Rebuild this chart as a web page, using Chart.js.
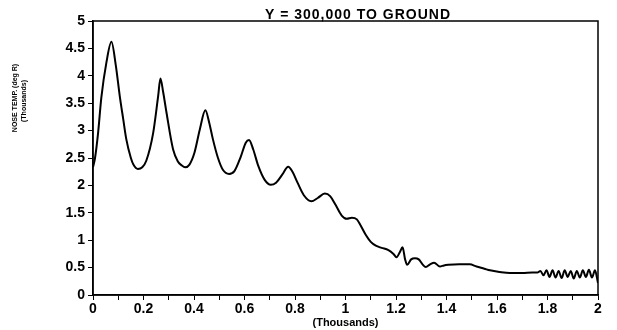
<!DOCTYPE html>
<html lang="en">
<head>
<meta charset="UTF-8">
<title>Nose temperature, Y = 300,000 to ground</title>
<script src="https://cdn.jsdelivr.net/npm/chart.js"></script>
<style>
  html, body { margin: 0; padding: 0; background: #fff; }
  #chart { display: block; }
</style>
</head>
<body>
<canvas id="chart" width="617" height="330"></canvas>
<script>
// data (x and y both in thousands)
const timeK = [
  0, 0.008, 0.02, 0.033, 0.053, 0.073, 0.09, 0.106, 0.12, 0.132,
  0.15, 0.16, 0.178, 0.195, 0.211, 0.238, 0.258, 0.267, 0.278, 0.291,
  0.317, 0.337, 0.35, 0.365, 0.382, 0.402, 0.423, 0.445, 0.46, 0.475,
  0.495, 0.515, 0.539, 0.56, 0.585, 0.605, 0.618, 0.635, 0.655, 0.68,
  0.704, 0.725, 0.75, 0.773, 0.79, 0.81, 0.835, 0.865, 0.89, 0.918,
  0.94, 0.96, 0.985, 1.005, 1.025, 1.045, 1.06, 1.08, 1.10, 1.12,
  1.143, 1.17, 1.19, 1.202, 1.215, 1.226, 1.236, 1.244, 1.26, 1.275,
  1.29, 1.305, 1.318, 1.335, 1.351, 1.374, 1.39, 1.407, 1.45, 1.492,
  1.519, 1.55, 1.572, 1.61, 1.651, 1.70, 1.74, 1.76, 1.772, 1.784,
  1.796, 1.808, 1.82, 1.832, 1.844, 1.856, 1.868, 1.88, 1.892, 1.904,
  1.916, 1.928, 1.94, 1.952, 1.964, 1.976, 1.988, 2.0
];
const noseTemp = [
  2.33, 2.5, 2.95, 3.6, 4.24, 4.62, 4.2, 3.63, 3.2, 2.84,
  2.5, 2.38, 2.30, 2.33, 2.45, 2.95, 3.63, 3.95, 3.7, 3.33,
  2.66, 2.43, 2.37, 2.33, 2.38, 2.6, 3.02, 3.37, 3.15, 2.84,
  2.5, 2.28, 2.21, 2.26, 2.52, 2.78, 2.83, 2.65, 2.35, 2.1,
  2.01, 2.05, 2.2, 2.34, 2.25, 2.05, 1.82, 1.71, 1.77, 1.85,
  1.8, 1.65, 1.45, 1.39, 1.41, 1.38, 1.27, 1.1, 0.97, 0.9,
  0.86, 0.82, 0.75, 0.69, 0.78, 0.87, 0.65, 0.55, 0.65, 0.67,
  0.65, 0.56, 0.51, 0.56, 0.59, 0.52, 0.54, 0.55, 0.56, 0.56,
  0.52, 0.48, 0.45, 0.42, 0.40, 0.40, 0.41, 0.41, 0.44, 0.36,
  0.45, 0.33, 0.45, 0.32, 0.44, 0.31, 0.45, 0.33, 0.44, 0.30,
  0.44, 0.32, 0.45, 0.33, 0.46, 0.32, 0.45, 0.22
];

const xTickLabels = ['0', '', '0.2', '', '0.4', '', '0.6', '', '0.8', '', '1',
                     '', '1.2', '', '1.4', '', '1.6', '', '1.8', '', '2'];
const yTickLabels = ['0', '0.5', '1', '1.5', '2', '2.5', '3', '3.5', '4', '4.5', '5'];

const chartTitle = 'Y = 300,000 TO GROUND';
const yTitle = ['NOSE TEMP. (deg R)', '(Thousands)'];
const xTitle = '(Thousands)';

const points = timeK.map((t, i) => ({ x: t, y: noseTemp[i] }));
const FONT = '"Liberation Sans", Arial, sans-serif';

// box around the plot, the title sitting on the top edge, and the small y title
const decor = {
  id: 'decor',
  afterDraw(chart) {
    const { ctx, chartArea: a } = chart;
    ctx.save();
    ctx.strokeStyle = '#000';
    ctx.lineWidth = 1.5;
    ctx.strokeRect(a.left, a.top, a.right - a.left, a.bottom - a.top);

    ctx.fillStyle = '#000';
    ctx.font = 'bold 14px ' + FONT;
    ctx.letterSpacing = '1px';
    ctx.textAlign = 'center';
    ctx.textBaseline = 'bottom';
    ctx.fillText(chartTitle, 358, a.top + 1);
    ctx.letterSpacing = '0px';

    ctx.translate(15, 98);
    ctx.rotate(-Math.PI / 2);
    ctx.font = 'bold 7px ' + FONT;
    ctx.textBaseline = 'middle';
    ctx.fillText(yTitle[0], 0, 0);
    ctx.fillText(yTitle[1], -3, 9);
    ctx.restore();
  }
};

new Chart(document.getElementById('chart'), {
  type: 'line',
  data: {
    datasets: [{
      data: points,
      borderColor: '#000',
      borderWidth: 2,
      pointRadius: 0,
      cubicInterpolationMode: 'monotone',
      fill: false
    }]
  },
  options: {
    responsive: false,
    animation: false,
    devicePixelRatio: 1,
    layout: { padding: { top: 21, right: 19, bottom: 0, left: 0 } },
    plugins: { legend: { display: false }, tooltip: { enabled: false } },
    scales: {
      x: {
        type: 'linear',
        min: 0,
        max: 2,
        afterFit: s => { s.height = 35; },
        ticks: {
          stepSize: 0.1,
          autoSkip: false,
          maxRotation: 0,
          padding: 1,
          color: '#000',
          font: { family: FONT, size: 14, weight: 'bold' },
          callback: v => xTickLabels[Math.round(v * 10)]
        },
        grid: { drawOnChartArea: false, drawTicks: true, tickLength: 5, color: '#000', lineWidth: 1 },
        border: { display: true, color: '#000', width: 1.5 },
        title: {
          display: true,
          text: xTitle,
          color: '#000',
          font: { family: FONT, size: 11, weight: 'bold' },
          padding: { top: -4, bottom: 0 }
        }
      },
      y: {
        min: 0,
        max: 5,
        afterFit: s => { s.width = 93; },
        ticks: {
          stepSize: 0.5,
          padding: 3,
          color: '#000',
          font: { family: FONT, size: 14, weight: 'bold' },
          callback: v => yTickLabels[Math.round(v * 2)]
        },
        grid: { drawOnChartArea: false, drawTicks: true, tickLength: 5, color: '#000', lineWidth: 1 },
        border: { display: true, color: '#000', width: 1.5 }
      }
    }
  },
  plugins: [decor]
});
</script>
</body>
</html>
